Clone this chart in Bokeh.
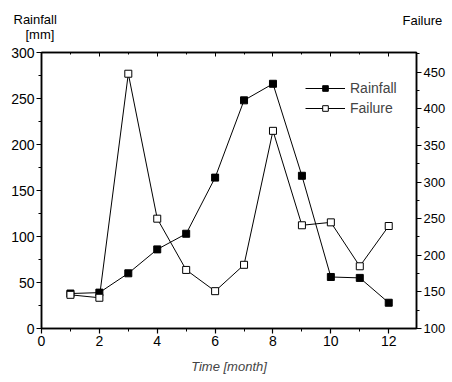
from bokeh.plotting import figure
from bokeh.models import (Range1d, LinearAxis, Legend, LegendItem, Label,
                          SingleIntervalTicker)
from bokeh.layouts import column
from bokeh.embed import file_html
from bokeh.resources import INLINE

months = [1, 2, 3, 4, 5, 6, 7, 8, 9, 10, 11, 12]
rainfall = [38, 39, 60, 86, 103, 164, 248, 266, 166, 56, 55, 28]
failure = [146, 142, 448, 250, 180, 151, 187, 370, 241, 245, 185, 240]

FONT = "Liberation Sans"
W = 448
HEAD = 44

# header strip holding the axis titles
h = figure(width=W, height=HEAD, x_range=Range1d(0, W), y_range=Range1d(HEAD, 0),
           output_backend="svg", toolbar_location=None,
           min_border=0, min_border_left=0, min_border_right=0, min_border_top=0, min_border_bottom=0)
h.axis.visible = False
h.grid.visible = False
h.outline_line_color = None
h.frame_align = False
for txt, x, y in [("Rainfall", 13, 19), ("[mm]", 25, 34), ("Failure", 402, 20)]:
    h.add_layout(Label(x=x, y=y, text=txt, text_font=FONT, text_font_size="13px",
                       text_baseline="middle", text_align="left", text_color="black"))

p = figure(width=W, height=376 - HEAD, x_range=Range1d(0, 12.96), y_range=Range1d(0, 300),
           output_backend="svg", toolbar_location=None,
           min_border_left=41, min_border_top=8, min_border_bottom=46, min_border_right=28)
p.frame_align = False
p.extra_y_ranges = {"fail": Range1d(100, 477)}

p.grid.visible = False
p.outline_line_color = "black"
p.outline_line_width = 1.5

def style_axis(ax):
    ax.axis_line_width = 1.5
    ax.major_tick_line_width = 1.2
    ax.minor_tick_line_width = 1
    ax.major_tick_out = 5
    ax.major_tick_in = 0
    ax.minor_tick_out = 3
    ax.minor_tick_in = 0
    ax.major_label_text_font = FONT
    ax.major_label_text_font_size = "14px"
    ax.major_label_text_color = "black"
    ax.major_label_standoff = 2

xa = p.xaxis[0]
xa.ticker = SingleIntervalTicker(interval=2, num_minor_ticks=2)
style_axis(xa)
xa.axis_label = "Time [month]"
xa.axis_label_text_font = FONT
xa.axis_label_text_font_style = "italic"
xa.axis_label_text_font_size = "13px"
xa.axis_label_standoff = 10

ya = p.yaxis[0]
ya.ticker = SingleIntervalTicker(interval=50, num_minor_ticks=2)
style_axis(ya)

ra = LinearAxis(y_range_name="fail", ticker=SingleIntervalTicker(interval=50, num_minor_ticks=2))
style_axis(ra)
ra.major_label_text_font_size = "13px"
p.add_layout(ra, "right")

ta = LinearAxis(ticker=SingleIntervalTicker(interval=2, num_minor_ticks=2))
ta.axis_line_width = 1.5
ta.major_tick_in = 4
ta.major_tick_out = 0
ta.minor_tick_in = 2
ta.minor_tick_out = 0
ta.major_label_overrides = {v: "" for v in range(0, 14, 2)}
ta.major_label_standoff = 0
p.add_layout(ta, "above")

r_line = p.line(months, rainfall, line_color="black", line_width=1)
r_mark = p.scatter(months, rainfall, marker="square", size=7, fill_color="black", line_color="black")
f_line = p.line(months, failure, line_color="black", line_width=1, y_range_name="fail")
f_mark = p.scatter(months, failure, marker="square", size=7, fill_color="white", line_color="black",
                   y_range_name="fail")

legend = Legend(items=[LegendItem(label="Rainfall", renderers=[r_line, r_mark]),
                       LegendItem(label="Failure", renderers=[f_line, f_mark])],
                location=(264, 212), glyph_width=40, glyph_height=14, label_height=14,
                spacing=4, padding=0, label_standoff=5,
                label_text_font=FONT, label_text_font_size="14px",
                border_line_alpha=0, background_fill_alpha=0)
p.add_layout(legend)

layout = column(h, p, spacing=0)
open("out.html", "w").write(file_html(layout, INLINE))
